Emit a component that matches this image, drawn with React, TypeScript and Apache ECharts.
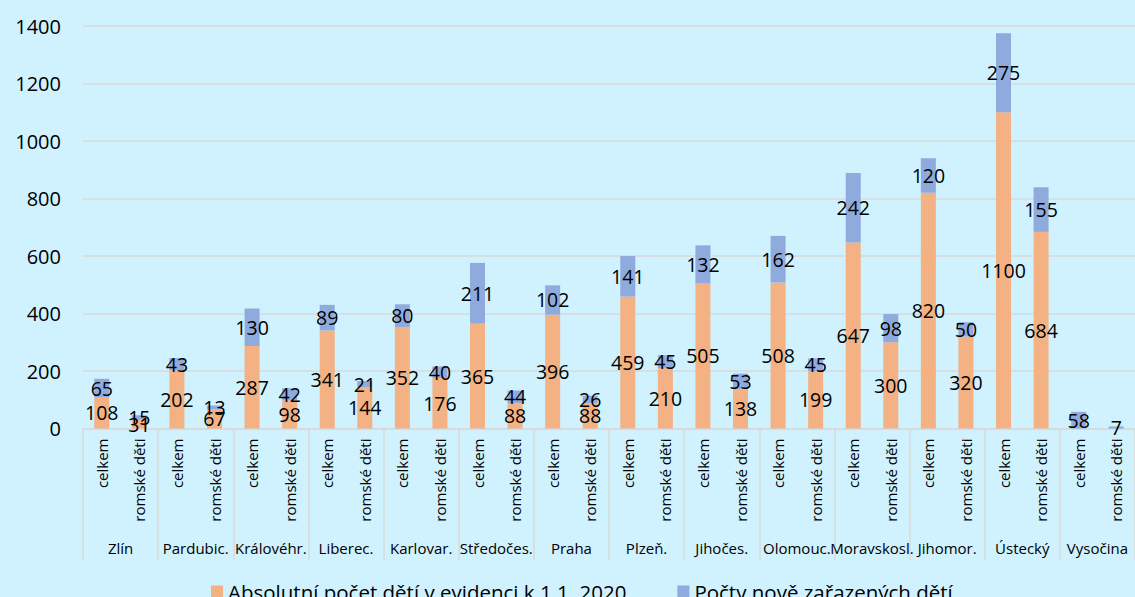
import React, { useEffect, useRef } from "react";
import * as echarts from "echarts";

const regions = [
  "Zlín", "Pardubic.", "Královéhr.", "Liberec.", "Karlovar.", "Středočes.", "Praha",
  "Plzeň.", "Jihočes.", "Olomouc.", "Moravskosl.", "Jihomor.", "Ústecký", "Vysočina",
];
const subCategories = ["celkem", "romské děti"];
// Absolutní počet dětí v evidenci k 1.1. 2020
const celkemAbs = [108, 202, 287, 341, 352, 365, 396, 459, 505, 508, 647, 820, 1100, 0];
const romskeAbs = [31, 67, 98, 144, 176, 88, 88, 210, 138, 199, 300, 320, 684, 0];
// Počty nově zařazených dětí
const celkemNew = [65, 43, 130, 89, 80, 211, 102, 141, 132, 162, 242, 120, 275, 58];
const romskeNew = [15, 13, 42, 21, 40, 44, 26, 45, 53, 45, 98, 50, 155, 7];

const seriesNames = ["Absolutní počet dětí v evidenci k 1.1. 2020", "Počty nově zařazených dětí"];
const yTicks = { min: 0, max: 1400, interval: 200 };

const FONT = "'Open Sans', 'Noto Sans', sans-serif";

export default function App() {
  const ref = useRef<HTMLDivElement>(null);
  useEffect(() => {
    if (!ref.current) return;
    const chart = echarts.init(ref.current, undefined, { renderer: "svg" });
    const innerCats: string[] = [];
    const absData: number[] = [];
    const newData: number[] = [];
    regions.forEach((_, i) => {
      innerCats.push(subCategories[0], subCategories[1]);
      absData.push(celkemAbs[i], romskeAbs[i]);
      newData.push(celkemNew[i], romskeNew[i]);
    });
    const labelCfg = {
      show: true,
      position: "inside" as const,
      color: "#000",
      fontSize: 19.5,
      fontFamily: FONT,
      formatter: (p: any) => (p.value === 0 ? "" : String(p.value)),
    };
    chart.setOption({
      animation: false,
      backgroundColor: "#D0F2FF",
      textStyle: { fontFamily: FONT },
      grid: { left: 83, right: -2, top: 26, bottom: 168.5, containLabel: false },
      legend: {
        data: seriesNames,
        left: 206,
        top: 576,
        itemWidth: 12,
        itemHeight: 12,
        itemGap: 51,
        icon: "rect",
        textStyle: { fontSize: 20.5, color: "#000", fontFamily: FONT },
      },
      xAxis: [
        {
          type: "category",
          data: innerCats,
          position: "bottom",
          axisLine: { show: true, lineStyle: { color: "#D9D9D9", width: 1.5 } },
          axisTick: { show: false },
          axisLabel: {
            interval: 0,
            rotate: 90,
            fontSize: 15,
            color: "#000",
            fontFamily: FONT,
            margin: 10,
          },
        },
        {
          type: "category",
          data: regions,
          position: "bottom",
          axisLine: { show: false },
          axisTick: {
            show: true,
            length: 132,
            interval: 0,
            lineStyle: { color: "#D9D9D9", width: 1.5 },
          },
          axisLabel: {
            interval: 0,
            fontSize: 15,
            color: "#000",
            fontFamily: FONT,
            margin: 112,
          },
        },
      ],
      yAxis: {
        type: "value",
        min: yTicks.min,
        max: yTicks.max,
        interval: yTicks.interval,
        axisLine: { show: false },
        axisTick: { show: false },
        axisLabel: {
          fontSize: 20,
          color: "#000",
          fontFamily: FONT,
          margin: 22,
          formatter: (v: number) => String(v),
        },
        splitLine: { lineStyle: { color: "#D9D9D9", width: 1.5 } },
      },
      series: [
        {
          name: seriesNames[0],
          type: "bar",
          stack: "total",
          xAxisIndex: 0,
          barWidth: 15,
          data: absData,
          itemStyle: { color: "#F4B183" },
          label: labelCfg,
        },
        {
          name: seriesNames[1],
          type: "bar",
          stack: "total",
          xAxisIndex: 0,
          barWidth: 15,
          data: newData,
          itemStyle: { color: "#8FAADC" },
          label: labelCfg,
        },
      ],
    });
    return () => chart.dispose();
  }, []);
  return (
    <div
      ref={ref}
      style={{ position: "fixed", left: 0, top: 0, width: 1135, height: 597, background: "#D0F2FF" }}
    />
  );
}
